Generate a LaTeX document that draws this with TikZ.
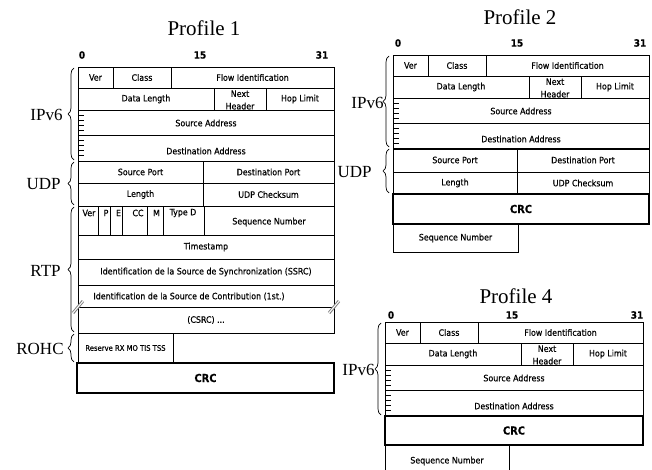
\documentclass[tikz,border=0pt]{standalone}
\usepackage{fontspec}
\setmainfont{Liberation Serif}
\newfontfamily\fieldfont[FakeBold=0.4]{DejaVu Sans Condensed}
\usetikzlibrary{decorations.pathreplacing}

\begin{document}
\begin{tikzpicture}[x=1pt, y=-1pt, line width=0.8pt]
  \tikzset{fld/.style={draw}, crc/.style={draw, line width=1.4pt},
    txt/.style={font=\fieldfont\fontsize{8.8}{12.5}\selectfont, inner sep=0pt, align=center},
    small/.style={font=\fieldfont\fontsize{7.6}{8}\selectfont, inner sep=0pt},
    bold/.style={font=\fieldfont\bfseries\fontsize{11}{12}\selectfont, inner sep=0pt},
    bits/.style={font=\fieldfont\bfseries\fontsize{10}{11}\selectfont, inner sep=0pt},
    title/.style={font=\fontsize{21}{24}\selectfont, inner sep=0pt},
    proto/.style={font=\fontsize{17}{19}\selectfont, anchor=east, inner sep=0pt},
    brc/.style={decorate, decoration={brace, amplitude=6pt}, line width=0.7pt}}
  \useasboundingbox (0,0) rectangle (652,470);
  % the IPv6 header, the same in all three profiles
  \foreach \p/\ox/\oy/\w in {a/78/67/256, b/393/55/256, c/385/322/258} {
    \begin{scope}[shift={(\ox,\oy)}]
      \draw[fld] (0,0) rectangle (35,21) node[txt, pos=.5] (\p ver) {Ver};
      \draw[fld] (35,0) rectangle (93,21) node[txt, pos=.5] (\p cls) {Class};
      \draw[fld] (93,0) rectangle (\w,21) node[txt, pos=.5] (\p flow) {Flow Identification};
      \draw[fld] (0,21) rectangle (136,43) node[txt, pos=.5] (\p dlen) {Data Length};
      \draw[fld] (136,21) rectangle (188,43);
      \node[txt] (\p next) at (162,33) {Next\\Header};
      \draw[fld] (188,21) rectangle (\w,43) node[txt, pos=.5] (\p hop) {Hop Limit};
      \draw[fld] (0,43) rectangle (\w,68);
      \node[txt] (\p src) at (\w/2,56) {Source Address};
      \draw[fld] (0,68) rectangle (\w,94);
      \node[txt] (\p dst) at (\w/2,84) {Destination Address};
      \foreach \t in {48,53,58,63,73,78,83,88} \draw (0,\t) -- (6,\t);
    \end{scope}
  }
  % Profile 1
  \node[title] (t1) at (204,28) {Profile 1};
  \node[bits] (a0) at (82,55) {0}; \node[bits] (a15) at (200,55) {15}; \node[bits] (a31) at (322,55) {31};
  \draw[fld] (78,161) rectangle (203,183) node[txt, pos=.5] (asport) {Source Port};
  \draw[fld] (203,161) rectangle (334,183) node[txt, pos=.5] (adport) {Destination Port};
  \draw[fld] (78,183) rectangle (203,206) node[txt, pos=.5] (alen) {Length};
  \draw[fld] (203,183) rectangle (334,206) node[txt, pos=.5] (asum) {UDP Checksum};
  \draw[fld] (78,206) rectangle (98,235); \draw[fld] (98,206) rectangle (110,235);
  \draw[fld] (110,206) rectangle (122,235); \draw[fld] (122,206) rectangle (147,235);
  \draw[fld] (147,206) rectangle (163,235); \draw[fld] (163,206) rectangle (204,235);
  \node[txt] (rver) at (89,213) {Ver}; \node[txt] (rp) at (106,213) {P};
  \node[txt] (re) at (118.5,213) {E}; \node[txt] (rcc) at (138,213) {CC};
  \node[txt] (rm) at (156.5,213) {M}; \node[txt] (rtype) at (183,213) {Type D};
  \draw[fld] (204,206) rectangle (334,235);
  \node[txt] (rseq) at (269,222) {Sequence Number};
  \draw[fld] (78,235) rectangle (334,259) node[txt, pos=.5] (rts) {Timestamp};
  \draw[fld] (78,259) rectangle (334,285) node[txt, pos=.5] (rssrc) {Identification de la Source de Synchronization (SSRC)};
  \draw[fld] (78,285) rectangle (334,307);
  \node[txt] (rcsrc) at (189,296.5) {Identification de la Source de Contribution (1st.)};
  \draw[fld] (78,307) rectangle (334,333) node[txt, pos=.5] (rmore) {(CSRC) ...};
  \foreach \x in {78,334} {
    \draw[gray, line width=3pt] (\x-5,313) -- (\x+5,301);
    \draw[white, line width=1pt] (\x-6,314) -- (\x+6,300);
  }
  \draw[fld] (78,333) rectangle (173,363) node[small, pos=.5] (rohc) {Reserve RX MO TIS TSS};
  \draw[crc] (77,363) rectangle (334,393) node[bold, pos=.5] (acrc) {CRC};
  \draw[brc] (74,160) -- (74,68); \draw[brc] (74,205) -- (74,162);
  \draw[brc] (74,332) -- (74,207); \draw[brc] (74,362) -- (74,334);
  \node[proto] (lip1) at (63,115) {IPv6}; \node[proto] (ludp1) at (61,184) {UDP};
  \node[proto] (lrtp) at (61,271) {RTP}; \node[proto] (lrohc) at (64,349) {ROHC};
  % Profile 2
  \node[title] (t2) at (520,17) {Profile 2};
  \node[bits] (b0) at (398,43) {0}; \node[bits] (b15) at (517,43) {15}; \node[bits] (b31) at (640,43) {31};
  \draw[fld] (393,148) rectangle (517,172) node[txt, pos=.5] (bsport) {Source Port};
  \draw[fld] (517,148) rectangle (649,172) node[txt, pos=.5] (bdport) {Destination Port};
  \draw[fld] (393,172) rectangle (517,194) node[txt, pos=.5] (blen) {Length};
  \draw[fld] (517,172) rectangle (649,194) node[txt, pos=.5] (bsum) {UDP Checksum};
  \draw[crc] (393,194) rectangle (649,224) node[bold, pos=.5] (bcrc) {CRC};
  \draw[fld] (393,224) rectangle (518,252) node[txt, pos=.5] (bseq) {Sequence Number};
  \draw[brc] (389,147) -- (389,56); \draw[brc] (389,193) -- (389,149);
  \node[proto] (lip2) at (384,103) {IPv6}; \node[proto] (ludp2) at (372,172) {UDP};
  % Profile 4
  \node[title] (t4) at (516,296) {Profile 4};
  \node[bits] (c0) at (391,315) {0}; \node[bits] (c15) at (512,315) {15}; \node[bits] (c31) at (637,315) {31};
  \draw[crc] (385,416) rectangle (643,445) node[bold, pos=.5] (ccrc) {CRC};
  \draw[fld] (385,445) rectangle (509,478);
  \node[txt] (cseq) at (447,461) {Sequence Number};
  \draw[brc] (381,415) -- (381,323);
  \node[proto] (lip4) at (375,370) {IPv6};
\end{tikzpicture}
\end{document}
